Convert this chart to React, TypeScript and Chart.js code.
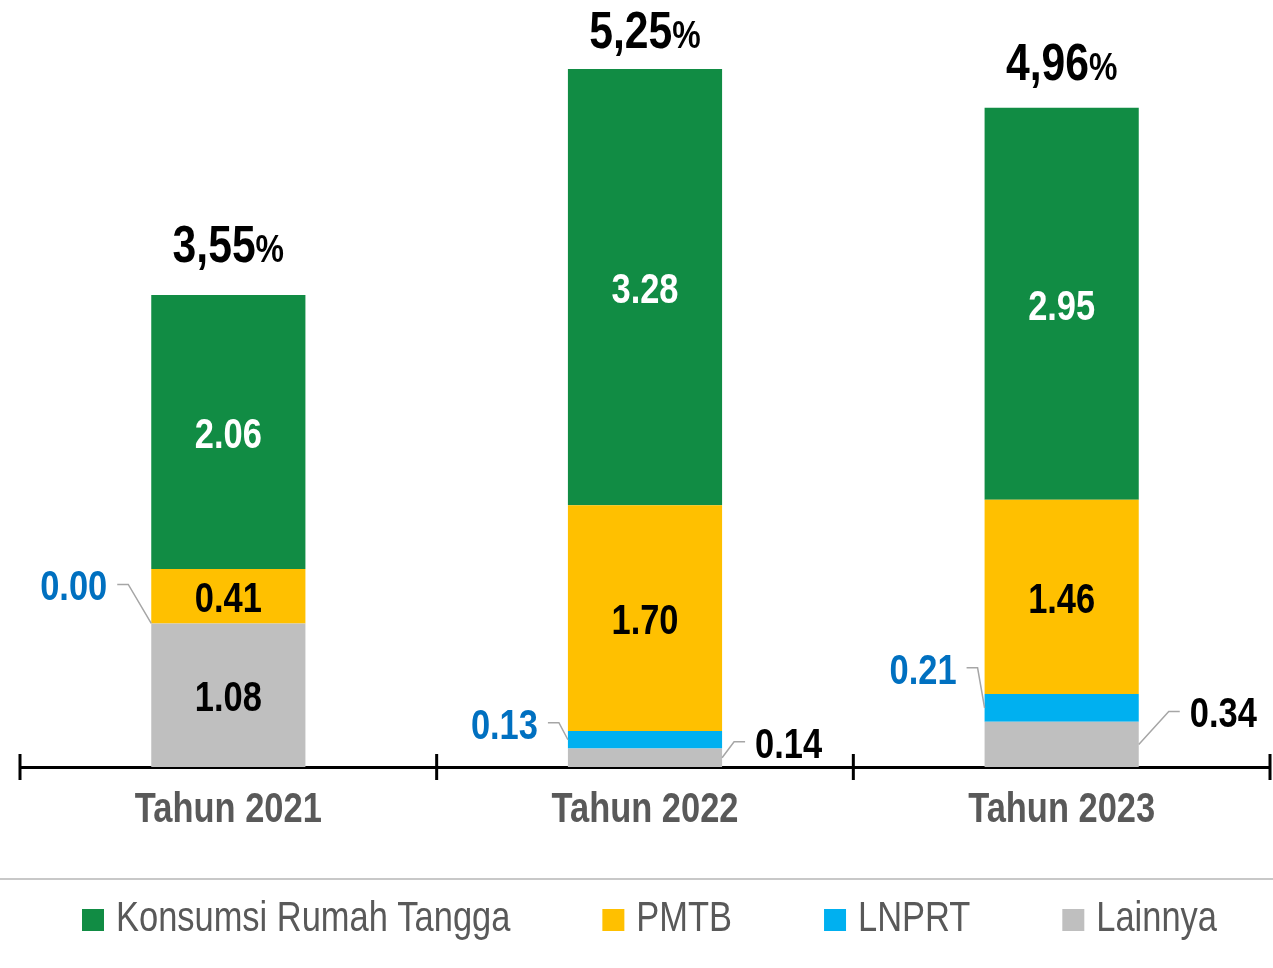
import React, { useEffect, useRef } from "react";
import { Chart, registerables } from "chart.js";

Chart.register(...registerables);

// ---- data ----
const categories = ["Tahun 2021", "Tahun 2022", "Tahun 2023"];
const lainnya = [1.08, 0.14, 0.34];
const lnprt = [0.0, 0.13, 0.21];
const pmtb = [0.41, 1.7, 1.46];
const konsumsi = [2.06, 3.28, 2.95];
const seriesNames = ["Lainnya", "LNPRT", "PMTB", "Konsumsi Rumah Tangga"];
const legendOrder = ["Konsumsi Rumah Tangga", "PMTB", "LNPRT", "Lainnya"];

// ---- styles ----
const FONT = "'Liberation Sans', Arial, sans-serif";
const NARROW_SCALE = 0.82;
const seriesColors = ["#BFBFBF", "#00B0F0", "#FFC000", "#118C44"];
const insideLabelColors = ["#000000", "#000000", "#000000", "#FFFFFF"];
const calloutColors = ["#000000", "#0070C0", "#000000", "#000000"];
const calloutSide = [1, -1, 1, 1];
// elbow offsets for small segments (relative to bar edge / segment centre)
const calloutOffsets: (number[] | null)[][] = [
  [null, [12, -16], [30, -33]],
  [[-23, -39], [-9, -17], [-7, -40]],
  [null, null, null],
  [null, null, null],
];
const totalGap = [33, 21, 28];

// draw text condensed horizontally (Arial Narrow look); returns drawn width
function narrowText(ctx: any, text: string, x: number, y: number, align: string, font: string) {
  ctx.font = font;
  const w = ctx.measureText(text).width * NARROW_SCALE;
  let left = x;
  if (align === "center") left = x - w / 2;
  else if (align === "right") left = x - w;
  ctx.save();
  ctx.textAlign = "left";
  ctx.textBaseline = "alphabetic";
  ctx.translate(left, y);
  ctx.scale(NARROW_SCALE, 1);
  ctx.fillText(text, 0, 0);
  ctx.restore();
  return w;
}
function narrowWidth(ctx: any, text: string, font: string) {
  ctx.font = font;
  return ctx.measureText(text).width * NARROW_SCALE;
}

const labelPlugin = {
  id: "labels",
  afterDatasetsDraw(chart: any) {
    const ctx = chart.ctx;
    ctx.save();
    const vs = 42;
    const valFont = `bold ${vs}px ${FONT}`;
    chart.data.datasets.forEach((ds: any, di: number) => {
      const meta = chart.getDatasetMeta(di);
      meta.data.forEach((el: any, i: number) => {
        const v = ds.data[i];
        const txt = v.toFixed(2);
        const top = Math.min(el.y, el.base);
        const bot = Math.max(el.y, el.base);
        const h = bot - top;
        const cy = (top + bot) / 2;
        const off = calloutOffsets[di][i];
        if (h >= 60 || !off) {
          ctx.fillStyle = insideLabelColors[di];
          narrowText(ctx, txt, el.x, cy + 1 + 0.358 * vs, "center", valFont);
        } else {
          const side = calloutSide[di];
          const ax = el.x + side * (el.width / 2);
          const ay = cy;
          const ex = ax + off[0];
          const ey = ay + off[1];
          const sx = ex + side * 11;
          ctx.strokeStyle = "#A6A6A6";
          ctx.lineWidth = 1.5;
          ctx.beginPath();
          ctx.moveTo(ax, ay);
          ctx.lineTo(ex, ey);
          ctx.lineTo(sx, ey);
          ctx.stroke();
          ctx.fillStyle = calloutColors[di];
          narrowText(ctx, txt, sx + side * 10, ey + 1 + 0.358 * vs, side < 0 ? "right" : "left", valFont);
        }
      });
    });
    // totals
    const last = chart.getDatasetMeta(chart.data.datasets.length - 1);
    const numFont = `bold 52px ${FONT}`;
    const pctFont = `bold 39px ${FONT}`;
    categories.forEach((_, i) => {
      let sum = 0;
      chart.data.datasets.forEach((ds: any) => (sum += ds.data[i]));
      const num = sum.toFixed(2).replace(".", ",");
      const el = last.data[i];
      const top = Math.min(el.y, el.base);
      const baseY = top - totalGap[i];
      const w1 = narrowWidth(ctx, num, numFont);
      const w2 = narrowWidth(ctx, "%", pctFont);
      const x0 = el.x - (w1 + w2) / 2;
      ctx.fillStyle = "#000000";
      narrowText(ctx, num, x0, baseY, "left", numFont);
      narrowText(ctx, "%", x0 + w1, baseY, "left", pctFont);
    });
    // axis tick marks at category boundaries + category labels
    const xs = chart.scales.x;
    const yb = chart.chartArea.bottom;
    const n = categories.length;
    ctx.strokeStyle = "#000000";
    ctx.lineWidth = 3;
    for (let i = 0; i <= n; i++) {
      const px = i === 0 ? xs.left : i === n ? xs.right : (xs.getPixelForValue(i - 1) + xs.getPixelForValue(i)) / 2;
      ctx.beginPath();
      ctx.moveTo(px, yb - 13);
      ctx.lineTo(px, yb + 13);
      ctx.stroke();
    }
    ctx.fillStyle = "#595959";
    categories.forEach((c, i) => {
      narrowText(ctx, c, xs.getPixelForValue(i), yb + 55, "center", `bold 42px ${FONT}`);
    });
    ctx.restore();
  },
  afterDraw(chart: any) {
    const ctx = chart.ctx;
    ctx.save();
    // separator
    ctx.strokeStyle = "#C8C8C8";
    ctx.lineWidth = 2;
    ctx.beginPath();
    ctx.moveTo(0, 879);
    ctx.lineTo(chart.width, 879);
    ctx.stroke();
    // legend
    const lf = `42px ${FONT}`;
    let x = 82;
    legendOrder.forEach((name) => {
      const idx = seriesNames.indexOf(name);
      ctx.fillStyle = seriesColors[idx];
      ctx.fillRect(x, 909, 22, 22);
      ctx.fillStyle = "#595959";
      const w = narrowText(ctx, name, x + 34, 931, "left", lf);
      x += 34 + w + 92;
    });
    ctx.restore();
  },
};

export default function App() {
  const ref = useRef<HTMLCanvasElement>(null);
  useEffect(() => {
    if (!ref.current) return;
    const seriesData = [lainnya, lnprt, pmtb, konsumsi];
    const chart = new Chart(ref.current, {
      type: "bar",
      data: {
        labels: categories,
        datasets: seriesNames.map((name, i) => ({
          label: name,
          data: seriesData[i],
          backgroundColor: seriesColors[i],
          borderWidth: 0,
          categoryPercentage: 1,
          barPercentage: 0.37,
        })),
      },
      options: {
        animation: false,
        responsive: true,
        maintainAspectRatio: false,
        layout: { padding: { left: 20, right: 3, top: 0, bottom: 201 } },
        plugins: { legend: { display: false }, tooltip: { enabled: false } },
        scales: {
          x: {
            stacked: true,
            grid: { display: false, drawTicks: false },
            border: { display: true, color: "#000000", width: 3 },
            ticks: { display: false },
          },
          y: {
            stacked: true,
            display: false,
            min: 0,
            max: 5.77,
          },
        },
      },
      plugins: [labelPlugin],
    });
    return () => chart.destroy();
  }, []);
  return (
    <div style={{ position: "absolute", left: 0, top: 0, width: 1273, height: 968, background: "#fff" }}>
      <canvas ref={ref} />
    </div>
  );
}
